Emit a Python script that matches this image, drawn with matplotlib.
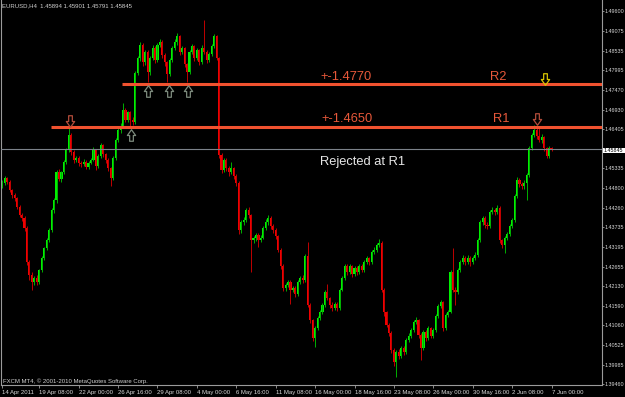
import numpy as np
import matplotlib
matplotlib.use("Agg")
from matplotlib import pyplot as plt
from matplotlib.path import Path
from matplotlib.patches import Rectangle

plt.rcParams['font.family'] = ['Liberation Sans', 'DejaVu Sans']

# EURUSD H4 candles, prices in points (price * 10000)
open_pts = [
    14485, 14493, 14507, 14496, 14474, 14460, 14452, 14428, 14406, 14398,
    14371, 14278, 14243, 14224, 14235, 14224, 14256, 14289, 14316, 14338,
    14365, 14420, 14447, 14523, 14504, 14523, 14550, 14583, 14624, 14578,
    14556, 14561, 14548, 14545, 14550, 14537, 14548, 14556, 14583, 14539,
    14567, 14597, 14572, 14556, 14534, 14507, 14561, 14610, 14637, 14648,
    14692, 14665, 14686, 14665, 14659, 14793, 14833, 14869, 14822, 14850,
    14795, 14833, 14861, 14828, 14869, 14877, 14842, 14822, 14790, 14828,
    14861, 14877, 14893, 14850, 14861, 14817, 14795, 14850, 14866, 14833,
    14855, 14822, 14861, 14850, 14828, 14844, 14866, 14893, 14833, 14569,
    14529, 14556, 14534, 14523, 14534, 14512, 14493, 14365, 14387, 14393,
    14420, 14406, 14338, 14344, 14352, 14338, 14344, 14371, 14387, 14398,
    14376, 14365, 14349, 14311, 14267, 14207, 14216, 14224, 14202, 14207,
    14191, 14224, 14235, 14229, 14295, 14161, 14120, 14071, 14099, 14126,
    14142, 14161, 14196, 14180, 14161, 14153, 14164, 14153, 14202, 14235,
    14267, 14251, 14267, 14246, 14262, 14251, 14267, 14256, 14278, 14289,
    14278, 14305, 14311, 14324, 14330, 14202, 14142, 14107, 14085, 14039,
    14006, 14033, 14022, 14044, 14033, 14066, 14077, 14093, 14115, 14120,
    14079, 14044, 14088, 14071, 14099, 14077, 14093, 14131, 14158, 14169,
    14099, 14134, 14142, 14251, 14202, 14197, 14256, 14278, 14289, 14278,
    14289, 14278, 14289, 14297, 14338, 14387, 14398, 14379, 14376, 14414,
    14420, 14414, 14425, 14338, 14324, 14344, 14354, 14376, 14393, 14458,
    14501, 14490, 14485, 14493, 14515, 14588, 14624, 14637, 14621, 14610,
    14618, 14588, 14567, 14589.4]
high_pts = [
    14500, 14512, 14510, 14500, 14478, 14466, 14455, 14432, 14412, 14402,
    14376, 14284, 14250, 14240, 14242, 14260, 14294, 14320, 14344, 14370,
    14426, 14452, 14528, 14530, 14527, 14556, 14588, 14645, 14628, 14584,
    14568, 14566, 14554, 14558, 14555, 14552, 14562, 14590, 14586, 14572,
    14602, 14600, 14576, 14560, 14538, 14566, 14616, 14642, 14656, 14711,
    14698, 14690, 14690, 14672, 14798, 14840, 14878, 14874, 14856, 14854,
    14838, 14868, 14866, 14874, 14886, 14882, 14848, 14826, 14834, 14866,
    14884, 14902, 14896, 14866, 14864, 14820, 14856, 14872, 14870, 14860,
    14858, 14868, 14937, 14854, 14850, 14872, 14898, 14896, 14836, 14576,
    14562, 14562, 14540, 14550, 14538, 14518, 14498, 14392, 14400, 14426,
    14428, 14410, 14350, 14358, 14356, 14352, 14376, 14394, 14405, 14402,
    14382, 14370, 14352, 14316, 14272, 14222, 14230, 14228, 14214, 14212,
    14230, 14240, 14242, 14300, 14332, 14166, 14124, 14104, 14132, 14148,
    14166, 14202, 14218, 14184, 14168, 14170, 14168, 14208, 14240, 14272,
    14272, 14274, 14270, 14268, 14266, 14274, 14272, 14284, 14294, 14292,
    14310, 14318, 14330, 14340, 14334, 14206, 14146, 14112, 14090, 14044,
    14038, 14040, 14050, 14050, 14072, 14084, 14098, 14120, 14128, 14124,
    14084, 14094, 14092, 14104, 14102, 14098, 14136, 14164, 14176, 14172,
    14140, 14148, 14256, 14316, 14210, 14262, 14284, 14298, 14294, 14296,
    14294, 14294, 14304, 14344, 14392, 14404, 14404, 14386, 14420, 14428,
    14426, 14432, 14430, 14342, 14350, 14360, 14382, 14398, 14464, 14510,
    14506, 14496, 14500, 14520, 14594, 14630, 14651, 14648, 14646, 14626,
    14622, 14592, 14594, 14590.1]
low_pts = [
    14480, 14488, 14490, 14468, 14453, 14445, 14422, 14400, 14390, 14363,
    14270, 14230, 14202, 14216, 14215, 14218, 14250, 14284, 14310, 14332,
    14360, 14412, 14440, 14498, 14496, 14518, 14544, 14578, 14570, 14548,
    14550, 14540, 14536, 14540, 14530, 14532, 14544, 14552, 14528, 14534,
    14562, 14564, 14548, 14526, 14485, 14502, 14556, 14604, 14630, 14642,
    14658, 14660, 14645, 14652, 14655, 14786, 14826, 14812, 14814, 14768,
    14788, 14828, 14820, 14822, 14862, 14834, 14812, 14767, 14784, 14822,
    14855, 14870, 14842, 14844, 14808, 14769, 14790, 14845, 14826, 14828,
    14814, 14818, 14844, 14820, 14822, 14838, 14860, 14828, 14562, 14520,
    14522, 14526, 14512, 14518, 14504, 14485, 14355, 14358, 14380, 14388,
    14398, 14250, 14330, 14336, 14320, 14332, 14340, 14366, 14380, 14368,
    14356, 14340, 14304, 14260, 14198, 14200, 14210, 14164, 14196, 14184,
    14186, 14218, 14220, 14224, 14155, 14112, 14064, 14047, 14094, 14120,
    14136, 14156, 14174, 14154, 14146, 14148, 14144, 14148, 14198, 14230,
    14244, 14246, 14238, 14240, 14244, 14246, 14250, 14252, 14272, 14270,
    14274, 14300, 14306, 14318, 14196, 14130, 14100, 14076, 14030, 13996,
    13965, 14014, 14016, 14026, 14028, 14060, 14072, 14088, 14108, 14070,
    14012, 14038, 14064, 14066, 14070, 14072, 14088, 14126, 14152, 14090,
    14094, 14128, 14138, 14196, 14162, 14192, 14250, 14272, 14270, 14272,
    14266, 14272, 14284, 14292, 14332, 14380, 14370, 14368, 14370, 14408,
    14406, 14408, 14330, 14316, 14303, 14338, 14348, 14370, 14388, 14452,
    14482, 14478, 14478, 14447, 14510, 14582, 14618, 14614, 14604, 14602,
    14580, 14562, 14562, 14579.1]
close_pts = [
    14493, 14507, 14496, 14474, 14460, 14452, 14428, 14406, 14398, 14371,
    14278, 14243, 14224, 14235, 14224, 14256, 14289, 14316, 14338, 14365,
    14420, 14447, 14523, 14504, 14523, 14550, 14583, 14624, 14578, 14556,
    14561, 14548, 14545, 14550, 14537, 14548, 14556, 14583, 14539, 14567,
    14597, 14572, 14556, 14534, 14507, 14561, 14610, 14637, 14648, 14692,
    14665, 14686, 14665, 14659, 14793, 14833, 14869, 14822, 14850, 14795,
    14833, 14861, 14828, 14869, 14877, 14842, 14822, 14790, 14828, 14861,
    14877, 14893, 14850, 14861, 14817, 14795, 14850, 14866, 14833, 14855,
    14822, 14861, 14850, 14828, 14844, 14866, 14893, 14833, 14569, 14529,
    14556, 14534, 14523, 14534, 14512, 14493, 14365, 14387, 14393, 14420,
    14406, 14338, 14344, 14352, 14338, 14344, 14371, 14387, 14398, 14376,
    14365, 14349, 14311, 14267, 14207, 14216, 14224, 14202, 14207, 14191,
    14224, 14235, 14229, 14295, 14161, 14120, 14071, 14099, 14126, 14142,
    14161, 14196, 14180, 14161, 14153, 14164, 14153, 14202, 14235, 14267,
    14251, 14267, 14246, 14262, 14251, 14267, 14256, 14278, 14289, 14278,
    14305, 14311, 14324, 14330, 14202, 14142, 14107, 14085, 14039, 14006,
    14033, 14022, 14044, 14033, 14066, 14077, 14093, 14115, 14120, 14079,
    14044, 14088, 14071, 14099, 14077, 14093, 14131, 14158, 14169, 14099,
    14134, 14142, 14251, 14202, 14197, 14256, 14278, 14289, 14278, 14289,
    14278, 14289, 14297, 14338, 14387, 14398, 14379, 14376, 14414, 14420,
    14414, 14425, 14338, 14324, 14344, 14354, 14376, 14393, 14458, 14501,
    14490, 14485, 14493, 14515, 14588, 14624, 14637, 14621, 14610, 14618,
    14588, 14567, 14589, 14584.5]

date_bars = [0, 15, 31, 47, 63, 79, 95, 111, 127, 143, 159, 175, 191, 207, 223]
date_labels = ["14 Apr 2011", "19 Apr 08:00", "22 Apr 00:00", "26 Apr 16:00",
               "29 Apr 08:00", "4 May 00:00", "6 May 16:00", "11 May 08:00",
               "16 May 00:00", "18 May 16:00", "23 May 08:00", "26 May 00:00",
               "30 May 16:00", "2 Jun 08:00", "7 Jun 00:00"]
price_ticks = [1.49600, 1.49075, 1.48535, 1.47995, 1.47470, 1.46930, 1.46405,
               1.45335, 1.44800, 1.44260, 1.43735, 1.43195, 1.42655, 1.42130,
               1.41590, 1.41060, 1.40525, 1.39985, 1.39460]

r1_price, r2_price = 1.4646, 1.4764
r1_start, r2_start = 19.75, 48.6
# signal arrows: (bar, price, colour)
down_arrows = [(27.5, 1.46619, '#b24c3a'), (217.1, 1.46674, '#b24c3a'),
               (220.2, 1.47771, '#d6c400')]
up_arrows = [(52.4, 1.46238), (59.3, 1.47441), (67.5, 1.47441), (75.5, 1.47441)]

o = np.array(open_pts) / 10000
h = np.array(high_pts) / 10000
l = np.array(low_pts) / 10000
c = np.array(close_pts) / 10000
x = np.arange(len(c))
bull = c >= o
last_price = c[-1]

fig = plt.figure(figsize=(6.25, 3.97), dpi=100, facecolor='black')
ax = fig.add_axes([1 / 625, 12 / 397, 600.5 / 625, 385 / 397])
ax.set_facecolor('black')

# candles
ax.vlines(x[bull], l[bull], h[bull], color='#00b000', lw=0.7)
ax.vlines(x[~bull], l[~bull], h[~bull], color='#c00000', lw=0.7)
body_lo = np.minimum(o, c)
body_h = np.maximum(np.abs(c - o), 0.00006)
ax.bar(x[bull], body_h[bull], bottom=body_lo[bull], width=0.85,
       color='#00f000', linewidth=0)
ax.bar(x[~bull], body_h[~bull], bottom=body_lo[~bull], width=0.85,
       color='#f00000', linewidth=0)

ax.set_xlim(-0.55, 243.3)
ax.set_ylim(1.394328, 1.499130)

# levels
ax.axhline(last_price, color='#7c828a', lw=0.8, zorder=3)
ax.hlines([r1_price, r2_price], [r1_start, r2_start], 243.3,
          color='#f0522f', lw=2.2, zorder=4)

# arrows
down_path = Path([(-0.16, 0.5), (0.16, 0.5), (0.16, 0.0), (0.36, 0.0),
                  (0.0, -0.5), (-0.36, 0.0), (-0.16, 0.0), (-0.16, 0.5)],
                 closed=True)
up_path = Path(down_path.vertices * [1, -1], closed=True)
for bx, py, col in down_arrows:
    ax.plot(bx, py, marker=down_path, markersize=8.3, markerfacecolor='none',
            markeredgecolor=col, markeredgewidth=0.9, linestyle='none', zorder=5)
for bx, py in up_arrows:
    ax.plot(bx, py, marker=up_path, markersize=8.3, markerfacecolor='none',
            markeredgecolor='#7c8a7c', markeredgewidth=0.9, linestyle='none', zorder=5)

# labels on chart
lvl_col = '#e8583a'
ax.text(129.0, 1.47735, '+-1.4770', color=lvl_col, fontsize=9.3, va='baseline')
ax.text(198.0, 1.47735, 'R2', color=lvl_col, fontsize=9.3, va='baseline')
ax.text(129.7, 1.46600, '+-1.4650', color=lvl_col, fontsize=9.3, va='baseline')
ax.text(199.1, 1.46600, 'R1', color=lvl_col, fontsize=9.3, va='baseline')
ax.text(129.0, 1.45422, 'Rejected at R1', color='#e6e6e6', fontsize=9.3,
        va='baseline')

# axes
ax.set_xticks(date_bars)
ax.set_xticklabels(date_labels, ha='left')
ax.yaxis.tick_right()
ax.set_yticks(price_ticks)
ax.set_yticklabels(['%.5f' % v for v in price_ticks])
ax.tick_params(axis='x', direction='out', length=2.5, width=0.6, color='#a0a0a0',
               labelcolor='#d8d8d8', labelsize=4.3, pad=1)
ax.tick_params(axis='y', direction='out', length=1.4, width=0.6, color='#a0a0a0',
               labelcolor='#d8d8d8', labelsize=3.9, pad=0.6)
ax.spines['top'].set_visible(False)
for s in ['left', 'bottom', 'right']:
    ax.spines[s].set_color('#9a9a9a')
    ax.spines[s].set_linewidth(0.8)

# current price box
fig.patches.append(Rectangle((602.5 / 625, (397 - 153.3) / 397), 22.5 / 625,
                             5.6 / 397, transform=fig.transFigure,
                             facecolor='white', edgecolor='none'))
fig.text(603.6 / 625, (397 - 150.5) / 397, '%.5f' % last_price, color='black',
         fontsize=3.9, va='center')

fig.text(2 / 625, 1 - 5.8 / 397,
         'EURUSD,H4  %.5f %.5f %.5f %.5f' % (o[-1], h[-1], l[-1], c[-1]),
         color='#d0d0d0', fontsize=4.3, va='center')
fig.text(3 / 625, 1 - 381 / 397, 'FXCM MT4, \u00a9 2001-2010 MetaQuotes Software Corp.',
         color='#d0d0d0', fontsize=4.3, va='center')

fig.savefig('out.png', dpi=100, facecolor='black')
